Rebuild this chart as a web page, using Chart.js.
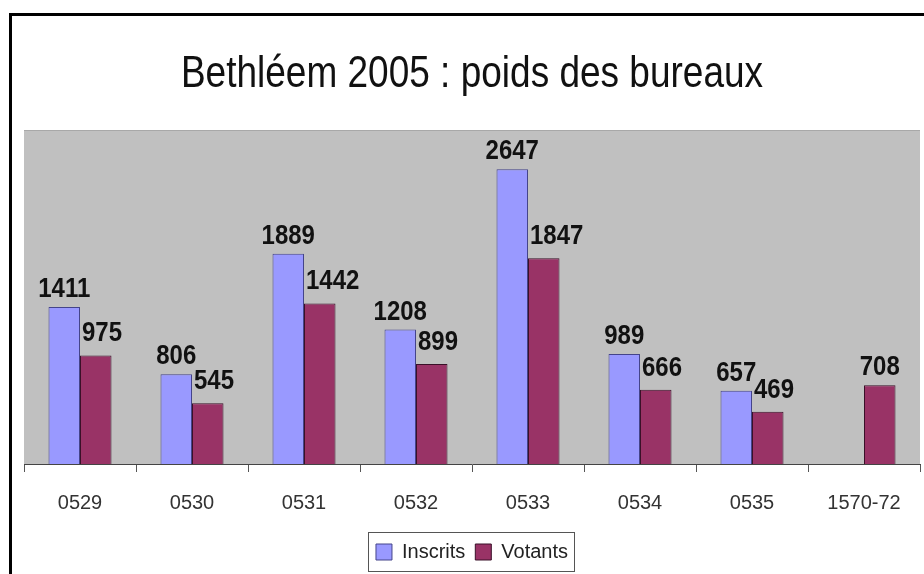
<!DOCTYPE html>
<html>
<head>
<meta charset="utf-8">
<title>Bethléem 2005 : poids des bureaux</title>
<script src="https://cdn.jsdelivr.net/npm/chart.js@4.4.1/dist/chart.umd.min.js"></script>
<style>
  html, body { margin: 0; padding: 0; background: #fff; }
  canvas { display: block; }
</style>
</head>
<body>
<canvas id="myChart" width="924" height="574"></canvas>
<script>
const titre = 'Bethléem 2005 : poids des bureaux';
const bureaux = ['0529', '0530', '0531', '0532', '0533', '0534', '0535', '1570-72'];
const inscrits = [1411, 806, 1889, 1208, 2647, 989, 657, null];
const votants = [975, 545, 1442, 899, 1847, 666, 469, 708];

const FONT = "'Liberation Sans', Arial, sans-serif";

// fond gris de la zone de tracé, cadre noir et titre
const fond = {
    id: 'fond',
    beforeDraw(chart) {
        const ctx = chart.ctx;
        const a = chart.chartArea;
        ctx.save();
        ctx.strokeStyle = '#000';
        ctx.lineWidth = 3;
        ctx.strokeRect(10.5, 14.5, 1000, 1000);
        ctx.fillStyle = '#c0c0c0';
        ctx.fillRect(a.left, a.top, a.right - a.left, a.bottom - a.top);
        ctx.strokeStyle = '#a8a8a8';
        ctx.lineWidth = 1;
        ctx.beginPath();
        ctx.moveTo(a.left, a.top + 0.5);
        ctx.lineTo(a.right, a.top + 0.5);
        ctx.stroke();

        // titre, un peu étiré en hauteur comme l'original
        ctx.font = '37px ' + FONT;
        ctx.fillStyle = '#111';
        ctx.textAlign = 'center';
        ctx.textBaseline = 'alphabetic';
        ctx.translate((a.left + a.right) / 2, 87);
        ctx.scale(1, 1.18);
        ctx.fillText(titre, 0, 0);
        ctx.restore();
    }
};

// étiquettes de valeurs au-dessus des barres
const etiquettes = {
    id: 'etiquettes',
    afterDatasetsDraw(chart) {
        const ctx = chart.ctx;
        ctx.save();
        ctx.font = 'bold 24px ' + FONT;
        ctx.fillStyle = '#111';
        ctx.textAlign = 'left';
        ctx.textBaseline = 'alphabetic';
        chart.data.datasets.forEach((ds, i) => {
            const meta = chart.getDatasetMeta(i);
            meta.data.forEach((bar, j) => {
                const v = ds.data[j];
                if (v === null || v === undefined) return;
                const txt = String(v);
                const w = ctx.measureText(txt).width;
                let left = bar.x - w / 2;
                let gap = 10;
                // l'étiquette des votants ne doit pas mordre sur la barre des inscrits
                if (i === 1 && chart.data.datasets[0].data[j] != null) {
                    left = Math.max(left, bar.x - bar.width / 2 + 2);
                    gap = 14;
                }
                ctx.save();
                ctx.translate(left, bar.y - gap);
                ctx.scale(1, 1.12);
                ctx.fillText(txt, 0, 0);
                ctx.restore();
            });
        });
        ctx.restore();
    }
};

// cadre autour de la légende
const cadreLegende = {
    id: 'cadreLegende',
    afterDraw(chart) {
        const lg = chart.legend;
        if (!lg || !lg.legendHitBoxes.length) return;
        const boxes = lg.legendHitBoxes;
        const first = boxes[0];
        const last = boxes[boxes.length - 1];
        const ctx = chart.ctx;
        ctx.save();
        ctx.strokeStyle = '#555';
        ctx.lineWidth = 1;
        const cy = first.top + first.height / 2;
        ctx.strokeRect(Math.round(first.left - 8) + 0.5, Math.round(cy - 20) + 0.5,
            Math.round(last.left + last.width - first.left + 14), 39);
        ctx.restore();
    }
};

const data = {
    labels: bureaux,
    datasets: [{
        label: 'Inscrits',
        data: inscrits,
        backgroundColor: '#9999ff',
        borderColor: '#44448a',
        borderWidth: 1
    }, {
        label: 'Votants',
        data: votants,
        backgroundColor: '#993366',
        borderColor: '#3a1028',
        borderWidth: 1
    }]
};

const options = {
    responsive: false,
    animation: false,
    layout: {
        padding: { top: 130, left: 24, right: 4, bottom: 2 }
    },
    datasets: {
        bar: { barPercentage: 1, categoryPercentage: 0.5625 }
    },
    scales: {
        x: {
            afterFit(scale) { scale.height = 68; },
            grid: {
                display: true,
                drawOnChartArea: false,
                drawTicks: true,
                tickLength: 8,
                color: '#555'
            },
            border: { display: true, color: '#444', width: 1 },
            ticks: {
                color: '#333',
                padding: 19,
                font: { family: FONT, size: 20 }
            }
        },
        y: {
            display: false,
            min: 0,
            max: 3000
        }
    },
    plugins: {
        title: { display: false },
        legend: {
            display: true,
            position: 'bottom',
            labels: {
                color: '#222',
                padding: 10,
                boxWidth: 16,
                boxHeight: 16,
                font: { family: FONT, size: 20 }
            }
        },
        tooltip: { enabled: false }
    }
};

const config = {
    type: 'bar',
    data: data,
    options: options,
    plugins: [fond, etiquettes, cadreLegende]
};

const myChart = new Chart(document.getElementById('myChart'), config);
</script>
</body>
</html>
